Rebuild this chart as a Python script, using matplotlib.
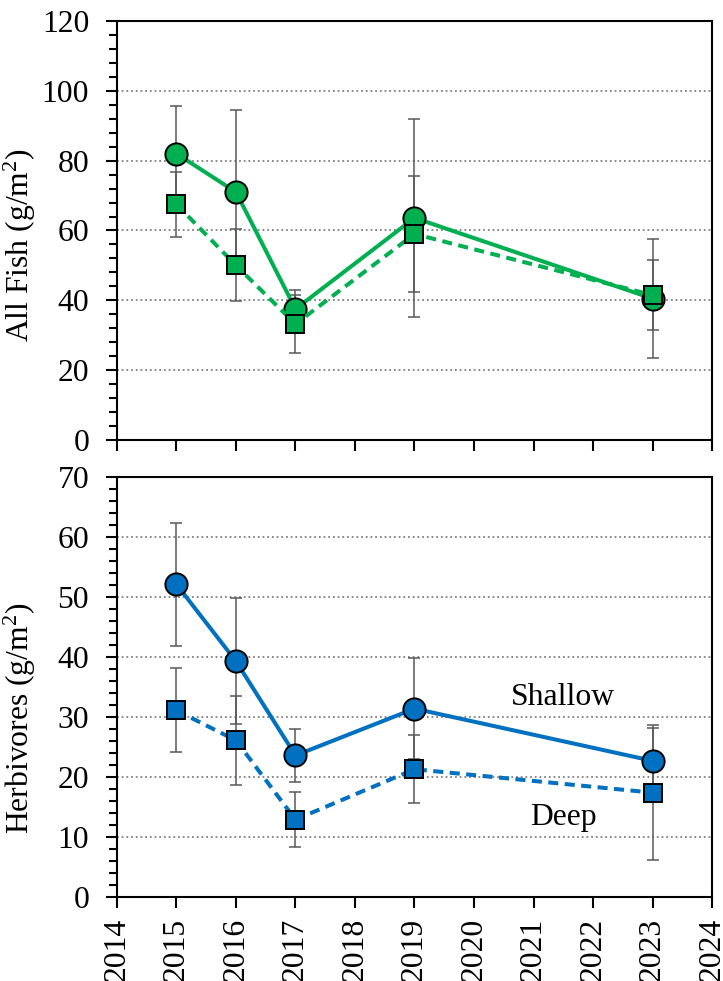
import matplotlib
matplotlib.use("Agg")
import matplotlib.pyplot as plt
from matplotlib.ticker import MultipleLocator

plt.rcParams['font.family'] = ['Liberation Serif', 'DejaVu Serif']
plt.rcParams['mathtext.default'] = 'regular'

# data
years = [2015, 2016, 2017, 2019, 2023]

fish_shallow = [82.0, 71.0, 37.5, 63.6, 40.5]
fish_shallow_err = [13.7, 23.6, 5.5, 28.4, 17.0]
fish_deep = [67.5, 50.0, 33.2, 59.0, 41.5]
fish_deep_err = [9.3, 10.3, 8.4, 16.5, 10.0]

herb_shallow = [52.1, 39.3, 23.6, 31.4, 22.7]
herb_shallow_err = [10.3, 10.5, 4.4, 8.4, 5.5]
herb_deep = [31.1, 26.1, 12.9, 21.3, 17.4]
herb_deep_err = [7.0, 7.4, 4.6, 5.7, 11.2]

GREEN = '#00B050'
BLUE = '#0070C0'
ERR = '#595959'
FS = 22.8


def draw_series(ax, y, err, color, marker, ms, dashed):
    ax.errorbar(years, y, yerr=err, fmt='none', ecolor=ERR, elinewidth=1.1,
                capsize=4.5, capthick=1.1, zorder=2)
    line, = ax.plot(years, y, color=color, lw=2.9, zorder=3,
                    marker=marker, markersize=ms, markerfacecolor=color,
                    markeredgecolor='black', markeredgewidth=1.4)
    if dashed:
        line.set_dashes((2.5, 1.6))
    return line


def style_axis(ax, ymax, ystep, yminor):
    ax.set_xlim(2014, 2024)
    ax.set_ylim(0, ymax)
    ax.xaxis.set_major_locator(MultipleLocator(1))
    ax.yaxis.set_major_locator(MultipleLocator(ystep))
    ax.yaxis.set_minor_locator(MultipleLocator(yminor))
    ax.tick_params(axis='both', which='major', direction='out', length=8,
                   width=1.5, labelsize=FS, color='black')
    ax.tick_params(axis='y', which='major', pad=12)
    ax.tick_params(axis='x', which='major', pad=7)
    ax.tick_params(axis='y', which='minor', direction='out', length=5.5,
                   width=1.5, color='black')
    for s in ax.spines.values():
        s.set_linewidth(1.5)
        s.set_color('black')
    ax.yaxis.grid(True, which='major', linestyle=(0, (1, 1.6)), lw=1.3,
                  color='#808080', zorder=0)
    ax.set_axisbelow(True)


fig = plt.figure(figsize=(7.23, 9.81), dpi=100)
ax1 = fig.add_axes([0.1618, 0.5515, 0.823, 0.4271])
ax2 = fig.add_axes([0.1618, 0.0856, 0.823, 0.4281])

# top panel: all fish
style_axis(ax1, 120, 20, 4)
draw_series(ax1, fish_shallow, fish_shallow_err, GREEN, 'o', 16, False)
draw_series(ax1, fish_deep, fish_deep_err, GREEN, 's', 13.5, True)
ax1.tick_params(axis='x', labelbottom=False)
ax1.set_ylabel('All Fish (g/m$^{2}$)', fontsize=FS)
ax1.yaxis.set_label_coords(-0.132, 0.465)

# bottom panel: herbivores
style_axis(ax2, 70, 10, 2)
draw_series(ax2, herb_shallow, herb_shallow_err, BLUE, 'o', 16, False)
draw_series(ax2, herb_deep, herb_deep_err, BLUE, 's', 13.5, True)
ax2.set_xticks(range(2014, 2025))
ax2.set_xticklabels([str(y) for y in range(2014, 2025)], rotation=90)
ax2.set_ylabel('Herbivores (g/m$^{2}$)', fontsize=FS)
ax2.yaxis.set_label_coords(-0.132, 0.426)

ax2.text(2021.5, 33.2, 'Shallow', fontsize=FS, ha='center', va='center')
ax2.text(2021.5, 13.3, 'Deep', fontsize=FS, ha='center', va='center')

fig.savefig('out.png', dpi=100)
